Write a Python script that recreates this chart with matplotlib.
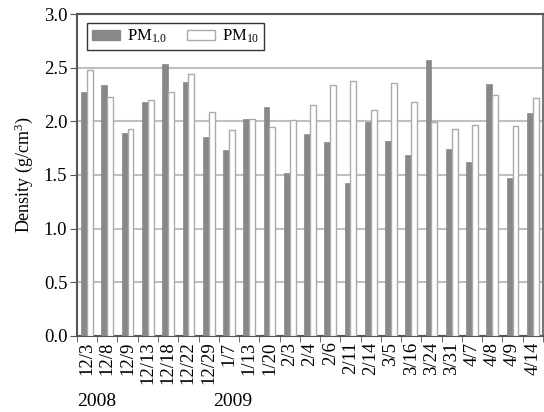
import matplotlib
matplotlib.use("Agg")
import matplotlib.pyplot as plt
import numpy as np
from matplotlib.patches import Patch

dates = ["12/3", "12/8", "12/9", "12/13", "12/18", "12/22", "12/29", "1/7", "1/13", "1/20",
         "2/3", "2/4", "2/6", "2/11", "2/14", "3/5", "3/16", "3/24", "3/31", "4/7", "4/8", "4/9", "4/14"]
pm1 = [2.27, 2.34, 1.89, 2.18, 2.53, 2.37, 1.85, 1.73, 2.02, 2.13,
       1.52, 1.88, 1.81, 1.43, 1.99, 1.82, 1.69, 2.57, 1.74, 1.62, 2.35, 1.47, 2.08]
pm10 = [2.48, 2.23, 1.93, 2.20, 2.27, 2.44, 2.09, 1.92, 2.02, 1.95,
        2.01, 2.15, 2.34, 2.38, 2.11, 2.36, 2.18, 1.99, 1.93, 1.97, 2.25, 1.96, 2.22]
years = ["2008", "2009"]
yticks = [0.0, 0.5, 1.0, 1.5, 2.0, 2.5, 3.0]

plt.rcParams['font.family'] = ['Liberation Serif', 'DejaVu Serif']
plt.rcParams['mathtext.fontset'] = 'custom'
plt.rcParams['mathtext.rm'] = 'Liberation Serif'
plt.rcParams['mathtext.it'] = 'Liberation Serif:italic'

fig = plt.figure(figsize=(5.44, 4.12), dpi=100)
ax = fig.add_axes([0.1415, 0.1845, 0.8565, 0.7815])

x = np.arange(len(dates))
w = 0.29
ax.bar(x - w / 2, pm1, w, color='#888888', edgecolor='#888888', linewidth=0.5, zorder=3)
ax.bar(x + w / 2, pm10, w, color='white', edgecolor='#aaaaaa', linewidth=1.0, zorder=3)

ax.set_xlim(-0.5, len(dates) - 0.5)
ax.set_ylim(0, 3.0)
ax.set_yticks(yticks)
ax.set_yticklabels([f"{v:.1f}" for v in yticks], fontsize=13.5)
ax.yaxis.grid(True, color='#c0c0c0', linewidth=1.5, zorder=0)
ax.set_axisbelow(True)

ax.set_xticks(x)
ax.set_xticklabels(dates, rotation=90, fontsize=13.5)
ax.tick_params(axis='x', which='major', length=0, pad=4)
ax.set_xticks(np.arange(-0.5, len(dates), 1.0), minor=True)
ax.tick_params(axis='x', which='minor', length=4, color='#555555', direction='out')
ax.tick_params(axis='y', length=5, color='#555555', direction='out', pad=2)

for s in ['left', 'bottom', 'top']:
    ax.spines[s].set_color('#555555')
    ax.spines[s].set_linewidth(1.5)
ax.spines['right'].set_color('#777777')
ax.spines['right'].set_linewidth(1.5)

ax.set_ylabel("Density (g/cm$^3$)", fontsize=13, labelpad=6)

handles = [Patch(facecolor='#888888', edgecolor='#888888'),
           Patch(facecolor='white', edgecolor='#aaaaaa')]
leg = ax.legend(handles, ["PM$_{1.0}$", "PM$_{10}$"], loc='upper left',
                bbox_to_anchor=(0.021, 0.972), ncol=2, fontsize=12, frameon=True,
                fancybox=False, edgecolor='black', handlelength=1.7, handleheight=0.55,
                columnspacing=1.2, borderpad=0.3, handletextpad=0.4, borderaxespad=0)
leg.get_frame().set_linewidth(1.0)

fig.text(77 / 544, 1 - 402 / 412, years[0], fontsize=14, va='center', ha='left')
fig.text(213 / 544, 1 - 402 / 412, years[1], fontsize=14, va='center', ha='left')

fig.savefig("out.png", dpi=100)
